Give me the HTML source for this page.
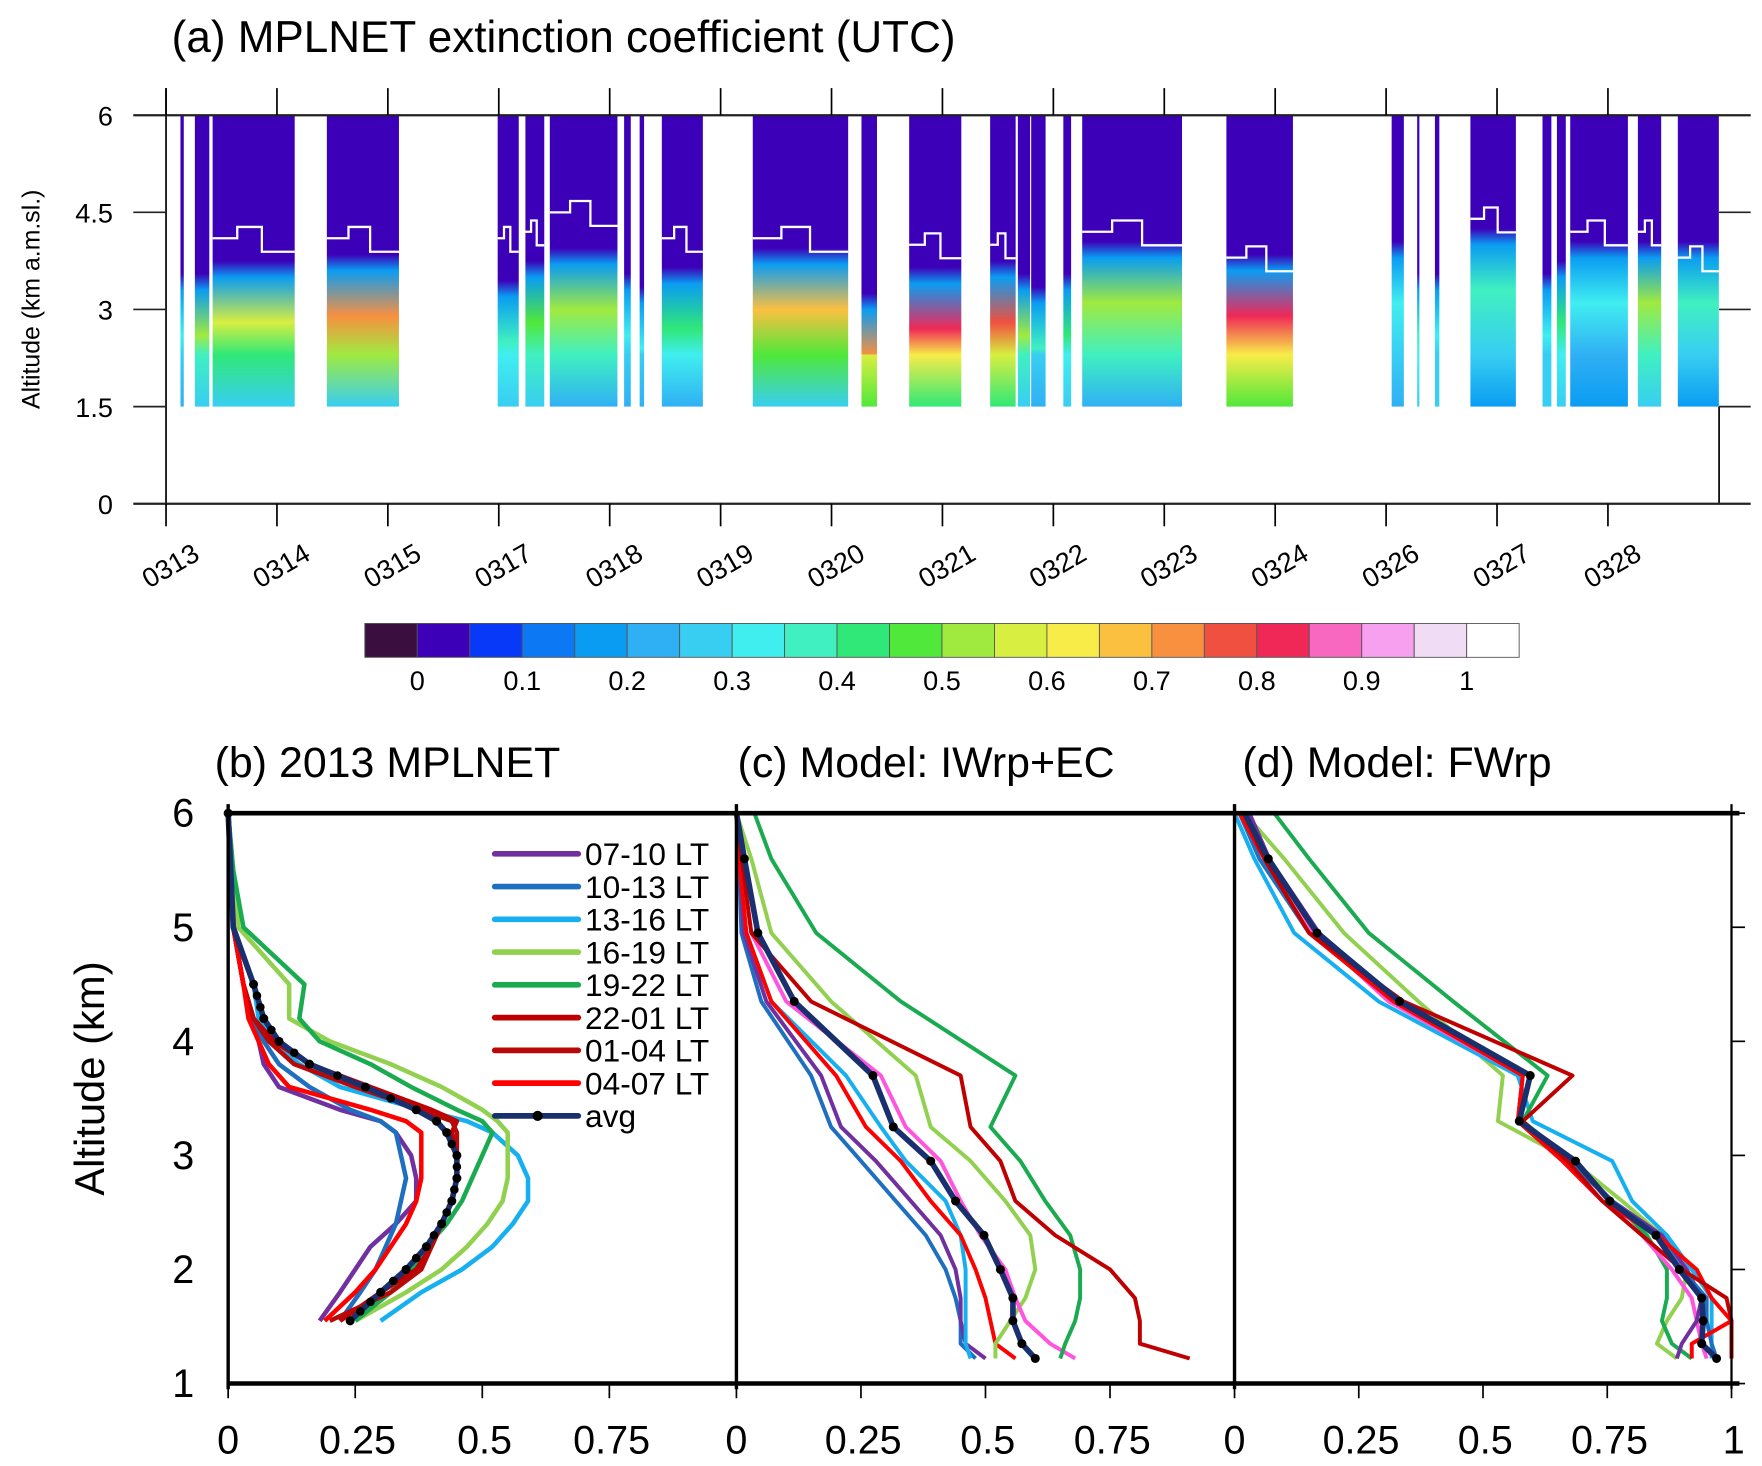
<!DOCTYPE html>
<html><head><meta charset="utf-8"><style>
html,body{margin:0;padding:0;background:#fff;}
svg{display:block;font-family:"Liberation Sans",Arial,sans-serif;}
</style></head><body>
<svg id="fig" width="1762" height="1466" viewBox="0 0 1560 1298" preserveAspectRatio="none" xmlns="http://www.w3.org/2000/svg">
<defs id="defs"></defs>
<g id="panelA"></g>
<g id="panelB"></g>
</svg>
<script>
// ===== Panel (a) data =====
const dateLabels = ["0313","0314","0315","0317","0318","0319","0320","0321","0322","0323","0324","0326","0327","0328"];
const blockStart = [0.13,0.26,0.42,1.45,2.99,3.24,3.46,4.13,4.27,4.47,5.29,6.27,6.70,7.43,7.68,7.80,8.09,8.26,9.56,11.05,11.28,11.44,11.76,12.41,12.54,12.66,13.27,13.63];
const blockEnd   = [0.16,0.39,1.16,2.10,3.18,3.41,4.07,4.19,4.31,4.84,6.15,6.41,7.17,7.66,7.79,7.93,8.16,9.16,10.16,11.16,11.30,11.48,12.17,12.49,12.62,13.18,13.48,14.0];
const aerosolTop = [3.5,3.5,3.7,3.8,3.4,3.7,3.9,3.5,3.3,3.6,3.9,3.2,3.6,3.7,3.5,3.3,3.5,4.0,3.8,4.0,3.5,3.5,4.2,3.5,3.7,4.0,4.0,4.0];
const peakExt    = [0.30,0.50,0.55,0.72,0.35,0.45,0.50,0.30,0.30,0.40,0.65,0.70,0.80,0.75,0.50,0.35,0.40,0.50,0.80,0.30,0.35,0.30,0.35,0.30,0.40,0.30,0.50,0.35];
const baseExt    = [0.22,0.25,0.25,0.28,0.25,0.25,0.22,0.22,0.22,0.22,0.25,0.45,0.40,0.40,0.25,0.22,0.25,0.20,0.45,0.22,0.25,0.25,0.18,0.25,0.25,0.18,0.25,0.18];
const pblTop     = [4.3,4.2,4.1,4.1,4.1,4.2,4.5,4.2,4.3,4.1,4.1,3.8,4.0,4.0,3.9,4.0,4.2,4.2,3.8,4.3,4.3,4.2,4.4,4.3,4.2,4.2,4.2,3.8];
const altTicksA = [0,1.5,3,4.5,6];
const cbLabels = ["0","0.1","0.2","0.3","0.4","0.5","0.6","0.7","0.8","0.9","1"];
const cbColors = ["#3a0f3f","#3c00b8","#0838f8","#0c78f4","#0a9cf2","#30b0f4","#38cef2","#40eef0","#40f0c0","#30e878","#50e83a","#a0ea40","#d8ee40","#f8ec48","#fcc040","#f89040","#f05040","#f02858","#f868c0","#f8a0f0","#f0dcf4","#ffffff"];

// ===== Panels (b)-(d) data =====
const seriesNames = ["07-10 LT","10-13 LT","13-16 LT","16-19 LT","19-22 LT","22-01 LT","01-04 LT","04-07 LT","avg"];
const seriesColors = ["#7030a0","#1f6fc0","#16b0f0","#92d050","#1aab50","#c00000","#b80808","#ff0000","#1a2f6e"];
const altB = [6,5.5,5,4.5,4.2,4,3.8,3.6,3.4,3.3,3.2,3,2.8,2.6,2.4,2.2,2,1.8,1.55];
const b0710 = [0,0.005,0.01,0.03,0.045,0.06,0.07,0.10,0.22,0.30,0.33,0.36,0.37,0.37,0.33,0.28,0.25,0.22,0.18];
const b1013 = [0,0.005,0.01,0.03,0.05,0.07,0.10,0.16,0.24,0.30,0.33,0.34,0.35,0.34,0.33,0.31,0.29,0.26,0.22];
const b1316 = [0,0.005,0.01,0.05,0.06,0.09,0.14,0.22,0.38,0.47,0.52,0.57,0.59,0.59,0.56,0.52,0.46,0.38,0.30];
const b1619 = [0,0.01,0.02,0.12,0.12,0.20,0.32,0.42,0.50,0.53,0.55,0.55,0.55,0.54,0.51,0.47,0.42,0.35,0.25];
const b1922 = [0,0.01,0.03,0.15,0.14,0.18,0.28,0.36,0.45,0.50,0.52,0.50,0.48,0.46,0.43,0.39,0.36,0.32,0.25];
const b2201 = [0,0.005,0.01,0.03,0.05,0.09,0.16,0.28,0.40,0.45,0.44,0.45,0.45,0.44,0.42,0.40,0.37,0.30,0.22];
const b0104 = [0,0.005,0.01,0.03,0.05,0.08,0.13,0.25,0.38,0.44,0.45,0.45,0.45,0.44,0.42,0.40,0.38,0.32,0.20];
const b0407 = [0,0.005,0.01,0.03,0.04,0.06,0.08,0.12,0.28,0.35,0.38,0.38,0.38,0.37,0.35,0.32,0.29,0.25,0.19];
const bAvg  = [0,0.005,0.01,0.05,0.07,0.10,0.16,0.27,0.37,0.41,0.43,0.45,0.45,0.44,0.42,0.39,0.35,0.30,0.24];

const altM = [6,5.6,4.95,4.35,3.7,3.25,2.95,2.6,2.3,2.0,1.75,1.55,1.35,1.22];
const c0710 = [0,0.005,0.015,0.06,0.17,0.21,0.28,0.35,0.41,0.44,0.45,0.45,0.46,0.50];
const c1013 = [0,0.005,0.01,0.05,0.15,0.19,0.25,0.32,0.38,0.42,0.44,0.45,0.45,0.48];
const c1316 = [0,0.005,0.02,0.07,0.22,0.29,0.34,0.42,0.45,0.46,0.46,0.46,0.46,0.47];
const c1619 = [0,0.03,0.07,0.19,0.36,0.39,0.47,0.54,0.59,0.60,0.58,0.55,0.52,0.52];
const c1922 = [0.036,0.07,0.16,0.33,0.56,0.51,0.57,0.62,0.67,0.69,0.69,0.68,0.66,0.65];
const c2201 = [0,0.01,0.03,0.15,0.45,0.47,0.53,0.56,0.64,0.75,0.80,0.81,0.81,0.91];
const cPink = [0,0.01,0.03,0.10,0.29,0.34,0.41,0.45,0.49,0.54,0.56,0.58,0.63,0.68];
const c0407 = [0,0.005,0.02,0.07,0.20,0.26,0.33,0.39,0.45,0.48,0.50,0.51,0.52,0.56];
const cAvg  = [0,0.016,0.043,0.116,0.274,0.315,0.39,0.44,0.497,0.53,0.555,0.555,0.573,0.60];

const altD = [6,5.6,4.95,4.35,3.7,3.3,2.95,2.6,2.3,2.0,1.75,1.55,1.35,1.22];
const d0710 = [0.03,0.07,0.17,0.33,0.58,0.57,0.68,0.76,0.86,0.91,0.94,0.93,0.90,0.89];
const d1013 = [0.01,0.05,0.15,0.32,0.58,0.57,0.67,0.76,0.85,0.90,0.95,0.95,0.96,0.97];
const d1316 = [0.00,0.04,0.12,0.29,0.57,0.60,0.76,0.80,0.87,0.92,0.96,0.96,0.96,0.96];
const d1619 = [0.02,0.10,0.22,0.37,0.54,0.53,0.68,0.78,0.86,0.91,0.90,0.87,0.85,0.89];
const d1922 = [0.08,0.15,0.27,0.44,0.63,0.58,0.68,0.76,0.83,0.87,0.87,0.86,0.88,0.92];
const d2201 = [0.02,0.06,0.15,0.34,0.68,0.58,0.67,0.74,0.82,0.90,0.99,1.00,1.00,1.00];
const dPink = [0.02,0.07,0.16,0.31,0.58,0.57,0.66,0.74,0.82,0.88,0.92,0.93,0.94,0.95];
const d0407 = [0.01,0.06,0.15,0.32,0.58,0.57,0.66,0.74,0.85,0.93,0.96,1.00,0.92,0.92];
const dAvg  = [0.02,0.068,0.166,0.332,0.595,0.573,0.686,0.755,0.848,0.895,0.94,0.943,0.94,0.97];
const yTickVals = [1,2,3,4,5,6];

const NS="http://www.w3.org/2000/svg";
function mk(tag,attrs,parent){const e=document.createElementNS(NS,tag);for(const k in attrs)e.setAttribute(k,attrs[k]);parent.appendChild(e);return e;}
const defs=document.getElementById('defs');
const gA=document.getElementById('panelA');
const gB=document.getElementById('panelB');

// ----- Panel (a) scales -----
const ax0=147, dayW=98.2;
const xA=d=>ax0+d*dayW;
const yA=h=>446-h*(344/6);
function extColor(v){let i=1+Math.floor(v*20+1e-9);if(i>21)i=21;if(i<1)i=1;return cbColors[i];}

let t=mk('text',{x:152,y:46,'font-size':39,fill:'#000'},gA);t.textContent="(a) MPLNET extinction coefficient (UTC)";



blockStart.forEach((s,i)=>{
  const gid='g'+i;
  const lg=mk('linearGradient',{id:gid,gradientUnits:'userSpaceOnUse',x1:0,x2:0,y1:yA(6),y2:yA(1.5)},defs);
  const top=aerosolTop[i];
  const f=h=>((6-h)/4.5*100).toFixed(1)+'%';
  mk('stop',{offset:'0%','stop-color':'#3c00b8'},lg);
  mk('stop',{offset:f(top+0.05),'stop-color':'#3c00b8'},lg);
  mk('stop',{offset:f(top-0.2),'stop-color':extColor(Math.min(0.15,peakExt[i]))},lg);
  mk('stop',{offset:f(top-0.9),'stop-color':extColor(peakExt[i])},lg);
  mk('stop',{offset:f(2.3),'stop-color':extColor((peakExt[i]+baseExt[i])/2)},lg);
  mk('stop',{offset:'100%','stop-color':extColor(baseExt[i])},lg);
  const r=mk('rect',{x:xA(s),y:yA(6),width:Math.max(1.5,xA(blockEnd[i])-xA(s)),height:yA(1.5)-yA(6),fill:'url(#'+gid+')'},gA);
  
  
  if(blockEnd[i]-s>0.15){
    const y=yA(pblTop[i]);
    const pl=mk('polyline',{points:`${xA(s)},${y} ${xA(s+(blockEnd[i]-s)*0.3)},${y} ${xA(s+(blockEnd[i]-s)*0.3)},${y-10} ${xA(s+(blockEnd[i]-s)*0.6)},${y-10} ${xA(s+(blockEnd[i]-s)*0.6)},${y+12} ${xA(blockEnd[i])},${y+12}`,fill:'none',stroke:'#fff','stroke-width':2},gA);
    
    
  }
});
// axes panel a
mk('line',{x1:ax0,y1:78,x2:ax0,y2:446,stroke:'#000','stroke-width':1.5},gA);
mk('line',{x1:1522,y1:360,x2:1522,y2:446,stroke:'#000','stroke-width':1.5},gA);
altTicksA.forEach(h=>{
  const y=yA(h);
  if(h===0||h===6){mk('line',{x1:118,y1:y,x2:1550,y2:y,stroke:'#222','stroke-width':2},gA);}
  else{mk('line',{x1:118,y1:y,x2:ax0,y2:y,stroke:'#222','stroke-width':1.5},gA);mk('line',{x1:1522,y1:y,x2:1550,y2:y,stroke:'#222','stroke-width':1.5},gA);}
  const tl=mk('text',{x:100,y:y+9,'font-size':24,'text-anchor':'end'},gA);tl.textContent=String(h);
  
  
});
dateLabels.forEach((d,i)=>{
  const x=xA(i);
  mk('line',{x1:x,y1:78,x2:x,y2:102,stroke:'#000','stroke-width':1.5},gA);
  mk('line',{x1:x,y1:446,x2:x,y2:466,stroke:'#000','stroke-width':1.5},gA);
  const tl=mk('text',{x:x+8,y:508,'font-size':24,'text-anchor':'middle',transform:`rotate(-30 ${x+8} 508)`},gA);tl.textContent=d;
  
  
});
t=mk('text',{x:35,y:265,'font-size':22,'text-anchor':'middle',transform:'rotate(-90 35 265)'},gA);t.textContent="Altitude (km a.m.sl.)";


// colorbar
const cbx=323,cbw=(1345-323)/22;
cbColors.forEach((c,i)=>{const r=mk('rect',{x:cbx+i*cbw,y:552,width:cbw,height:30,fill:c,stroke:'#555','stroke-width':0.8},gA);
  
  });
cbLabels.forEach((l,i)=>{const tl=mk('text',{x:cbx+(1+2*i)*cbw,y:611,'font-size':24,'text-anchor':'middle'},gA);tl.textContent=l;
  
  });

// ----- Panels b-d -----
const yB=h=>1225-(h-1)*101;
const panels=[
 {x0:202,w:450,title:"(b) 2013 MPLNET",tx:190,alt:altB,series:[b0710,b1013,b1316,b1619,b1922,b2201,b0104,b0407,bAvg],cols:[0,1,2,3,4,5,6,7,8],ticks:[0,0.25,0.5,0.75],dense:true},
 {x0:652,w:441,title:"(c) Model: IWrp+EC",tx:653,alt:altM,series:[c1013,c0710,c1316,c0407,c1619,cPink,c1922,c2201,cAvg],cols:[1,0,2,7,3,'#ff55dd',4,5,8],ticks:[0,0.25,0.5,0.75],dense:false},
 {x0:1093,w:440,title:"(d) Model: FWrp",tx:1100,alt:altD,series:[d1619,d1316,d1922,dPink,d0710,d1013,d0407,d2201,dAvg],cols:[3,2,4,'#ff55dd',0,1,7,5,8],ticks:[0,0.25,0.5,0.75,1],dense:false}
];
panels.forEach((p,pi)=>{
  const g=mk('g',{},gB);
  
  
  const xs=v=>p.x0+v*p.w;
  const tt=mk('text',{x:p.tx,y:688,'font-size':38},g);tt.textContent=p.title;
  
  
  p.series.forEach((s,si)=>{
    const c=typeof p.cols[si]==='string'?p.cols[si]:seriesColors[p.cols[si]];
    const isAvg=si===p.series.length-1;
    const pts=s.map((v,k)=>xs(v).toFixed(1)+','+yB(p.alt[k]).toFixed(1)).join(' ');
    const pl=mk('polyline',{points:pts,fill:'none',stroke:c,'stroke-width':isAvg?5:(pi===0?4:3.5),'stroke-linejoin':'round'},g);
    
    
    if(isAvg){
      s.forEach((v,k)=>{
        if(pi>0&&k===0)return;
        if(p.dense&&k>0&&p.alt[k-1]<=4.6){
          // extra markers along segment (dense MPLNET sampling)
          const n=Math.max(1,Math.round((p.alt[k-1]-p.alt[k])/0.09));
          for(let j=1;j<n;j++){const f=j/n;
            const d2=mk('circle',{cx:xs(s[k-1]+(v-s[k-1])*f),cy:yB(p.alt[k-1]+(p.alt[k]-p.alt[k-1])*f),r:3.8,fill:'#000'},g);
            
            }
        }
        if(p.dense&&p.alt[k]>4.6&&k>0)return;
        const d=mk('circle',{cx:xs(v),cy:yB(p.alt[k]),r:4,fill:'#000'},g);
        
        });
    }
  });
  mk('line',{x1:p.x0,y1:712,x2:p.x0,y2:1230,stroke:'#000','stroke-width':3},g);
  p.ticks.forEach(v=>{
    const x=xs(v);
    mk('line',{x1:x,y1:1225,x2:x,y2:1238,stroke:'#000','stroke-width':1.5},g);
    const tl=mk('text',{x:x+(v===0?0:2),y:1287,'font-size':35,'text-anchor':'middle'},g);tl.textContent=String(v);
    
    
  });
});
mk('line',{x1:1533,y1:712,x2:1533,y2:1230,stroke:'#000','stroke-width':2},gB);
yTickVals.forEach(h=>{
  const y=yB(h);
  mk('line',{x1:1533,y1:y,x2:1545,y2:y,stroke:'#000','stroke-width':1.5},gB);
  const tl=mk('text',{x:172,y:y+12,'font-size':35,'text-anchor':'end'},gB);tl.textContent=String(h);
  
  
});
mk('line',{x1:202,y1:720,x2:1540,y2:720,stroke:'#000','stroke-width':4},gB);
mk('line',{x1:202,y1:1225,x2:1540,y2:1225,stroke:'#000','stroke-width':4},gB);
t=mk('text',{x:92,y:955,'font-size':37,'text-anchor':'middle',transform:'rotate(-90 92 955)'},gB);t.textContent="Altitude (km)";


// legend
const lg=mk('g',{},gB);


seriesNames.forEach((n,i)=>{
  const y=756+i*29;
  const e=mk('g',{},lg);
  
  
  mk('line',{x1:438,y1:y,x2:512,y2:y,stroke:seriesColors[i],'stroke-width':5,'stroke-linecap':'round'},e);
  if(i===8)mk('circle',{cx:476,cy:y,r:4.5,fill:'#000'},e);
  const tl=mk('text',{x:518,y:y+10,'font-size':28},e);tl.textContent=n;
});
</script>
</body></html>
